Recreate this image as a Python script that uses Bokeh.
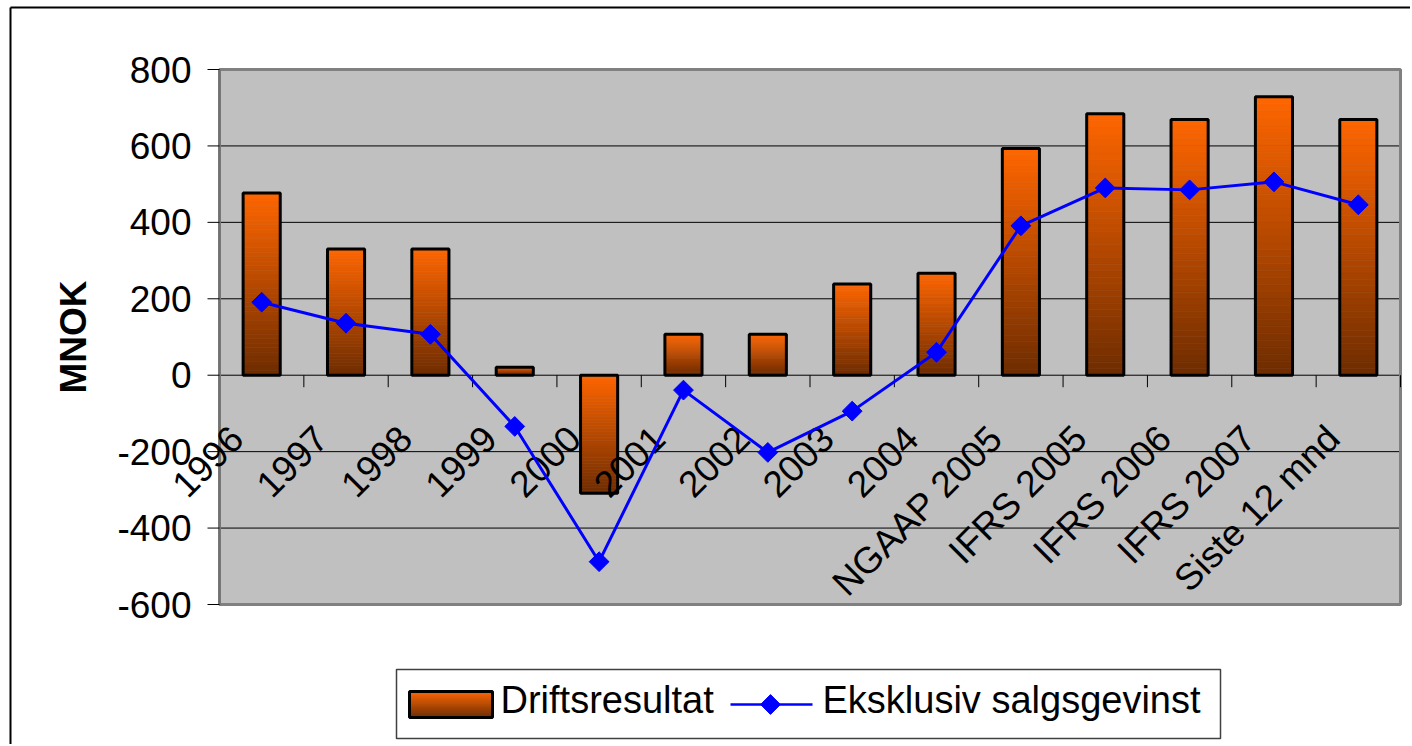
import numpy as np
from bokeh.plotting import figure
from bokeh.models import Range1d, ColumnDataSource
from bokeh.core.properties import value
from bokeh.embed import file_html
from bokeh.resources import INLINE

categories = ["1996", "1997", "1998", "1999", "2000", "2001", "2002", "2003", "2004",
              "NGAAP 2005", "IFRS 2005", "IFRS 2006", "IFRS 2007", "Siste 12 mnd"]
driftsresultat = [477, 330, 330, 21, -309, 107, 107, 239, 267, 593, 684, 669, 729, 669]
eksklusiv_salgsgevinst = [191, 136, 107, -134, -488, -39, -202, -94, 60, 391, 490, 485, 506, 446]
series_names = ["Driftsresultat", "Eksklusiv salgsgevinst"]
y_ticks = [-600, -400, -200, 0, 200, 400, 600, 800]
y_tick_labels = ["-600", "-400", "-200", "0", "200", "400", "600", "800"]
y_title = "MNOK"

FONT = "Liberation Sans"
n = len(categories)
pos = list(range(n))
x_lo, x_hi = -0.5, n - 0.5
y_lo, y_hi = min(y_ticks), max(y_ticks)

# ---- layout in canvas pixels ----
W, H = 1410, 744
PA_L, PA_T, PA_R, PA_B = 219, 69, 1400, 604      # plot-area box
ppx = (PA_R - PA_L) / (x_hi - x_lo)
ppy = (PA_B - PA_T) / (y_hi - y_lo)
x_start = x_lo - PA_L / ppx
x_end = x_hi + (W - PA_R) / ppx
y_end = y_hi + PA_T / ppy
y_start = y_lo - (H - PA_B) / ppy


def px2x(px):
    return x_start + px / ppx


def py2y(py):
    return y_end - py / ppy


p = figure(width=W, height=H, x_range=Range1d(x_start, x_end), y_range=Range1d(y_start, y_end),
           output_backend="svg", toolbar_location=None,
           x_axis_location=None, y_axis_location=None, min_border=0)
p.min_border_left = p.min_border_right = p.min_border_top = p.min_border_bottom = 0
p.outline_line_color = None
p.background_fill_color = "white"
p.border_fill_color = "white"
p.grid.visible = False

# outer chart border (top and left edges visible)
p.segment(x0=[px2x(10), px2x(10)], y0=[py2y(7), py2y(7)],
          x1=[px2x(W), px2x(10)], y1=[py2y(7), py2y(H)], line_color="black", line_width=2)

# plot area background and gridlines
p.quad(left=[x_lo], right=[x_hi], bottom=[y_lo], top=[y_hi], fill_color="#C0C0C0", line_color=None)
p.segment(x0=[x_lo] * len(y_ticks), y0=y_ticks, x1=[x_hi] * len(y_ticks), y1=y_ticks,
          line_color="black", line_width=1)

# gradient colours (top orange -> bottom brown)
N = 40
c_top = np.array([0xFF, 0x66, 0x00], dtype=float)
c_bot = np.array([0x6E, 0x2C, 0x00], dtype=float)
grad = ["#%02x%02x%02x" % tuple(int(round(q)) for q in (c_top + (c_bot - c_top) * (k + 0.5) / N))
        for k in range(N)]

# gradient bars built from slices
sx, stop, sbot, scol = [], [], [], []
for x, v in zip(pos, driftsresultat):
    hi, lo = max(v, 0), min(v, 0)
    edges = np.linspace(hi, lo, N + 1)
    for k in range(N):
        sx.append(x)
        stop.append(edges[k])
        sbot.append(edges[k + 1])
        scol.append(grad[k])
slices = ColumnDataSource(dict(x=sx, top=stop, bottom=sbot, color=scol))
bar_src = ColumnDataSource(dict(x=pos, top=[max(v, 0) for v in driftsresultat],
                                bottom=[min(v, 0) for v in driftsresultat]))
BW = 0.44
p.vbar(x="x", top="top", bottom="bottom", width=BW, source=slices,
       fill_color="color", line_color="color", line_width=0.6)
p.vbar(x="x", top="top", bottom="bottom", width=BW, source=bar_src,
       fill_alpha=0, line_color="black", line_width=3)

# plot area border
p.quad(left=[x_lo], right=[x_hi], bottom=[y_lo], top=[y_hi], fill_alpha=0,
       line_color="#808080", line_width=3)

# y axis (line, ticks, labels, title)
p.segment(x0=[x_lo], y0=[y_lo], x1=[x_lo], y1=[y_hi], line_color="#707070", line_width=2)
p.segment(x0=[x_lo - 12 / ppx] * len(y_ticks), y0=y_ticks, x1=[x_lo] * len(y_ticks), y1=y_ticks,
          line_color="black", line_width=1)
p.text(x=[x_lo] * len(y_ticks), y=y_ticks, text=y_tick_labels, x_offset=-28,
       text_align="right", text_baseline="middle",
       text_font=value(FONT), text_font_size="37px", text_color="black")
p.text(x=[px2x(73)], y=[(y_lo + y_hi) / 2], text=[y_title], angle=np.pi / 2,
       text_align="center", text_baseline="middle", text_font=value(FONT),
       text_font_size="37px", text_font_style="bold", text_color="black")

# category axis at zero: tick marks and rotated labels
tick_x = [x + 0.5 for x in pos]
p.segment(x0=tick_x, y0=[0] * n, x1=tick_x, y1=[-12 / ppy] * n, line_color="black", line_width=1)
p.text(x=pos, y=[0] * n, text=categories, angle=np.pi / 4,
       text_align="right", text_baseline="middle", x_offset=-25, y_offset=57,
       text_font=value(FONT), text_font_size="37px", text_color="black")

# line series
p.line(pos, eksklusiv_salgsgevinst, line_color="#0000FF", line_width=3)
p.scatter(pos, eksklusiv_salgsgevinst, marker="square", angle=np.pi / 4, size=14,
          fill_color="#0000FF", line_color="#0000FF")

# ---- legend box below the plot area ----
LG_L, LG_T, LG_R, LG_B = 396, 669, 1220, 738
p.quad(left=[px2x(LG_L)], right=[px2x(LG_R)], top=[py2y(LG_T)], bottom=[py2y(LG_B)],
       fill_color="white", line_color="#404040", line_width=1.5)
# bar swatch with gradient
SW_L, SW_T, SW_R, SW_B = 409, 691, 492, 717
sw_edges = np.linspace(SW_T, SW_B, N + 1)
p.quad(left=[px2x(SW_L)] * N, right=[px2x(SW_R)] * N,
       top=[py2y(e) for e in sw_edges[:-1]], bottom=[py2y(e) for e in sw_edges[1:]],
       fill_color=grad, line_color=grad, line_width=0.6)
p.quad(left=[px2x(SW_L)], right=[px2x(SW_R)], top=[py2y(SW_T)], bottom=[py2y(SW_B)],
       fill_alpha=0, line_color="black", line_width=3)
# line swatch with diamond
p.line([px2x(730), px2x(812)], [py2y(704), py2y(704)], line_color="#0000FF", line_width=2.5)
p.scatter([px2x(770)], [py2y(704)], marker="square", angle=np.pi / 4, size=14,
          fill_color="#0000FF", line_color="#0000FF")
# legend labels
p.text(x=[px2x(500), px2x(822)], y=[py2y(699), py2y(699)], text=series_names,
       text_align="left", text_baseline="middle", text_font=value(FONT),
       text_font_size="38px", text_color="black")

open("out.html", "w").write(file_html(p, INLINE))
